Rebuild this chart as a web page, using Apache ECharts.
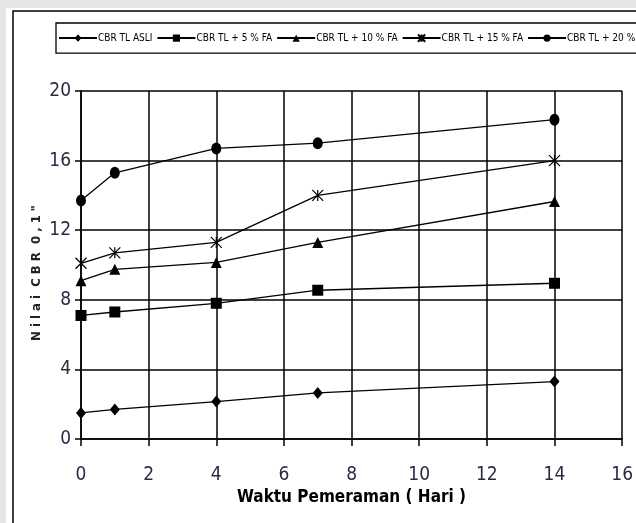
<!DOCTYPE html>
<html>
<head>
<meta charset="utf-8">
<script src="https://cdn.jsdelivr.net/npm/echarts@6/dist/echarts.min.js"></script>
<style>
  html, body { margin: 0; padding: 0; background: #e6e6e6; }
  #chart { width: 636px; height: 523px; }
</style>
</head>
<body>
<div id="chart"></div>
<script>
// waktu pemeraman (hari)
var days = [0, 1, 4, 7, 14];
var seriesNames = ['CBR TL ASLI', 'CBR TL + 5 % FA', 'CBR TL + 10 % FA', 'CBR TL + 15 % FA', 'CBR TL + 20 % FA'];
var cbrAsli = [1.5, 1.7, 2.15, 2.65, 3.3];
var cbr5 = [7.1, 7.3, 7.8, 8.55, 8.95];
var cbr10 = [9.1, 9.75, 10.15, 11.3, 13.65];
var cbr15 = [10.1, 10.7, 11.3, 14.0, 16.0];
var cbr20 = [13.7, 15.3, 16.7, 17.0, 18.35];
var xTicks = [0, 2, 4, 6, 8, 10, 12, 14, 16];
var yTicks = [0, 4, 8, 12, 16, 20];

var font = '"DejaVu Sans Condensed", "Liberation Sans Narrow", sans-serif';
var crossPath = 'path://M0,0L10,10M10,0L0,10M5,0L5,10';

function pairs(vals) {
  return days.map(function (d, i) { return [d, vals[i]]; });
}

function makeSeries(name, vals, symbol, size) {
  return {
    name: name,
    type: 'line',
    data: pairs(vals),
    symbol: symbol,
    symbolSize: size,
    showAllSymbol: true,
    lineStyle: { color: '#000', width: 1.3 },
    itemStyle: { color: '#000', borderColor: '#000', borderWidth: 0 },
    emphasis: { disabled: true },
    z: 5
  };
}

var chart = echarts.init(document.getElementById('chart'));
var series = [
  makeSeries(seriesNames[0], cbrAsli, 'diamond', [10, 12]),
  makeSeries(seriesNames[1], cbr5, 'rect', [11, 11]),
  makeSeries(seriesNames[2], cbr10, 'triangle', [11, 11]),
  makeSeries(seriesNames[3], cbr15, crossPath, [11, 11]),
  makeSeries(seriesNames[4], cbr20, 'circle', [10, 12])
];
// simbol silang cuma garis
series[3].itemStyle = { color: 'none', borderColor: '#000', borderWidth: 1.2 };

chart.setOption({
  backgroundColor: '#e6e6e6',
  animation: false,
  graphic: [
    { type: 'rect', shape: { x: 6, y: 8, width: 700, height: 600 }, style: { fill: '#fff' }, z: -10 },
    { type: 'rect', shape: { x: 13, y: 11, width: 700, height: 600 }, style: { fill: 'none', stroke: '#000', lineWidth: 1.5 }, z: -9 }
  ],
  legend: {
    left: 56,
    top: 23,
    width: 900,
    padding: [9, 6, 9, 2],
    itemGap: 4,
    itemWidth: 38,
    itemHeight: 9,
    borderColor: '#000',
    borderWidth: 1.3,
    textStyle: { fontFamily: font, fontSize: 10, color: '#000', padding: [0, 0, 0, -4] },
    data: seriesNames
  },
  grid: { left: 81, top: 91, right: 4, bottom: 84 },
  xAxis: {
    type: 'value',
    min: 0,
    max: 16,
    interval: 2,
    name: 'Waktu Pemeraman ( Hari )',
    nameLocation: 'middle',
    nameGap: 50,
    nameMoveOverlap: false,
    nameTextStyle: { fontFamily: font, fontSize: 17, fontWeight: 'bold', color: '#000' },
    axisLine: { lineStyle: { color: '#000', width: 1.5 } },
    axisTick: { length: 7, lineStyle: { color: '#000', width: 1.5 } },
    axisLabel: {
      margin: 27,
      fontFamily: font,
      fontSize: 19,
      color: '#2b2b45',
      formatter: function (v) { return xTicks.indexOf(v) >= 0 ? String(v) : ''; }
    },
    splitLine: { lineStyle: { color: '#000', width: 1.5 } }
  },
  yAxis: {
    type: 'value',
    min: 0,
    max: 20,
    interval: 4,
    name: 'N i l a i  C B R  0 , 1 "',
    nameLocation: 'middle',
    nameGap: 38,
    nameMoveOverlap: false,
    nameRotate: 90,
    nameTextStyle: { fontFamily: font, fontSize: 13, fontWeight: 'bold', color: '#222', padding: [0, 16, 0, 0] },
    axisLine: { show: true, lineStyle: { color: '#000', width: 1.5 } },
    axisTick: { show: true, length: 6, lineStyle: { color: '#000', width: 1.5 } },
    axisLabel: {
      margin: 10,
      fontFamily: font,
      fontSize: 19,
      color: '#2b2b45',
      formatter: function (v) { return yTicks.indexOf(v) >= 0 ? String(v) : ''; }
    },
    splitLine: { lineStyle: { color: '#000', width: 1.5 } }
  },
  series: series
});
</script>
</body>
</html>
